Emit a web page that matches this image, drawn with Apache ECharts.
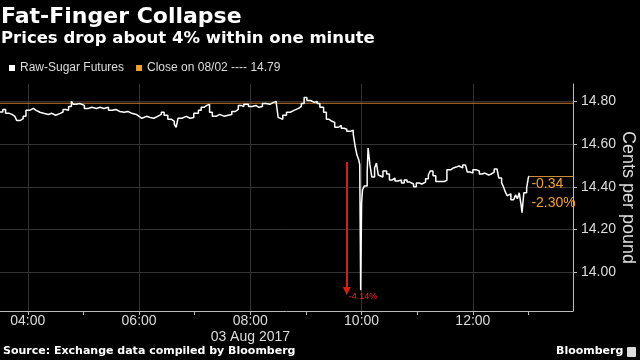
<!DOCTYPE html>
<html><head><meta charset="utf-8">
<script src="https://cdn.jsdelivr.net/npm/echarts@6/dist/echarts.min.js"></script>
<style>html,body{margin:0;padding:0;background:#000;}#c{width:640px;height:360px;}</style>
</head><body><div id="c"></div>
<script>
// minutes since midnight, 03 Aug 2017
const minuteOfDay = [210,213,216,220,223,226,228,232,235,238,242,246,249,253,257,262,266,270,275,278,281,284,287,289,292,296,301,305,309,314,318,322,327,331,335,339,344,348,352,357,360,363,368,372,376,380,384,387,391,395,398,400,402,406,411,415,419,424,427,430,433,436,439,443,447,452,456,460,464,467,470,473,478,482,486,489,493,497,501,505,508,510,512,515,519,523,527,532,535,538,541,545,549,552,555,559,562,565,568,571,575,578,581,584,588,591,593,595,597,598,599,600,601,603,606,607,609,611,614,616,618,620,623,627,630,633,636,639,643,646,649,652,656,659,662,665,669,672,674,677,680,685,689,692,696,699,702,705,709,712,714,717,720,724,727,730,733,737,740,743,746,748,751,753,755,757,759,761,764,766,768,770,772,773,775,778,780,781];
const sugarPrice = [14.749,14.761,14.743,14.738,14.729,14.724,14.710,14.718,14.729,14.757,14.766,14.757,14.748,14.743,14.738,14.743,14.734,14.743,14.749,14.761,14.757,14.775,14.799,14.785,14.789,14.780,14.766,14.771,14.766,14.771,14.766,14.771,14.757,14.761,14.752,14.748,14.752,14.743,14.738,14.729,14.720,14.729,14.724,14.720,14.729,14.738,14.748,14.734,14.715,14.706,14.692,14.678,14.720,14.729,14.720,14.724,14.743,14.757,14.771,14.780,14.785,14.748,14.729,14.738,14.729,14.734,14.738,14.752,14.761,14.780,14.775,14.785,14.775,14.780,14.771,14.775,14.789,14.785,14.794,14.799,14.789,14.724,14.715,14.734,14.748,14.757,14.766,14.775,14.789,14.817,14.803,14.794,14.799,14.789,14.771,14.748,14.715,14.706,14.701,14.678,14.687,14.673,14.669,14.659,14.664,14.646,14.590,14.548,14.525,14.502,13.917,14.325,14.386,14.404,14.469,14.581,14.502,14.446,14.488,14.511,14.455,14.446,14.474,14.460,14.432,14.441,14.427,14.432,14.418,14.432,14.422,14.413,14.400,14.418,14.413,14.422,14.437,14.455,14.474,14.451,14.425,14.425,14.430,14.479,14.488,14.492,14.497,14.488,14.502,14.506,14.469,14.464,14.479,14.474,14.460,14.464,14.455,14.460,14.469,14.483,14.474,14.441,14.418,14.400,14.376,14.358,14.367,14.339,14.348,14.362,14.344,14.372,14.316,14.279,14.372,14.395,14.446,14.450];
const closeValue = 14.79;
const lastValue = 14.45;
const changeText = ['-0.34', '-2.30%'];
const dropText = '-4.14%';
const dropFrom = 14.516, dropTo = 13.913, dropMinute = 584;
const xMin = 210, xMax = 828;
const hourTicks = [240,300,360,420,480,540,600,660,720,780];
const hourLabels = [240,360,480,600,720];
const yMin = 13.82, yMax = 14.88;
const yTicks = [14.0,14.2,14.4,14.6,14.8];

const pad = n => (n < 10 ? '0' : '') + n;
const mainData = minuteOfDay.map((m, i) => [m, sugarPrice[i]]);
const lastMinute = minuteOfDay[minuteOfDay.length - 1];

const chart = echarts.init(document.getElementById('c'), null, {renderer: 'canvas'});
const font = 'Liberation Sans, Arial, sans-serif';
chart.setOption({
  backgroundColor: '#000',
  animation: false,
  title: {
    text: 'Fat-Finger Collapse',
    subtext: 'Prices drop about 4% within one minute',
    left: 1, top: 6, padding: 0, itemGap: 2,
    textStyle: {color: '#fff', fontSize: 22, fontWeight: 'bold', fontFamily: 'DejaVu Sans'},
    subtextStyle: {color: '#fff', fontSize: 16.5, fontWeight: 'bold', fontFamily: 'DejaVu Sans'}
  },
  legend: {
    left: 9, top: 62, padding: 0, itemGap: 12,
    itemWidth: 6, itemHeight: 6, icon: 'rect',
    textStyle: {color: '#ddd', fontSize: 12, fontFamily: font},
    data: ['Raw-Sugar Futures', 'Close on 08/02 ---- 14.79']
  },
  grid: {left: 0, right: 67, top: 84, bottom: 49, containLabel: false, outerBoundsMode: 'none'},
  xAxis: [{
    type: 'value', min: xMin, max: xMax,
    axisLine: {show: true, lineStyle: {color: '#bbb', width: 1}},
    axisTick: {show: true, length: 4, lineStyle: {color: '#bbb'}, customValues: hourTicks},
    axisLabel: {
      color: '#ddd', fontSize: 14, fontFamily: font, margin: 2, lineHeight: 16,
      customValues: hourLabels,
      formatter: v => { const s = pad(Math.floor(v / 60)) + ':' + pad(v % 60); return v === 480 ? s + '\n03 Aug 2017' : s; }
    },
    splitLine: {show: false}
  }, {
    type: 'value', min: xMin, max: xMax, position: 'bottom',
    axisLine: {show: false}, axisLabel: {show: false},
    axisTick: {show: false, customValues: hourLabels},
    splitLine: {show: true, lineStyle: {color: '#333', width: 1}}
  }],
  yAxis: {
    type: 'value', position: 'right', min: yMin, max: yMax,
    axisLine: {show: true, lineStyle: {color: '#bbb', width: 1}},
    axisTick: {show: true, length: 4, lineStyle: {color: '#bbb'}, customValues: yTicks},
    axisLabel: {color: '#ddd', fontSize: 14, fontFamily: font, margin: 8, customValues: yTicks,
      formatter: v => v.toFixed(2)},
    splitLine: {show: true, lineStyle: {color: '#333', width: 1}},
    name: 'Cents per pound', nameLocation: 'middle', nameRotate: -90, nameGap: 46,
    nameMoveOverlap: false,
    nameTextStyle: {color: '#ddd', fontSize: 18, fontFamily: font}
  },
  series: [{
    name: 'Close on 08/02 ---- 14.79', type: 'line', xAxisIndex: 0,
    data: [[xMin, closeValue], [xMax, closeValue]],
    showSymbol: false, silent: true,
    itemStyle: {color: '#f0a030'},
    lineStyle: {color: '#c77a2e', width: 1.2},
    markLine: {
      silent: true, symbol: ['none', 'none'],
      lineStyle: {color: '#d08a35', width: 1.2, type: 'solid'},
      label: {show: false},
      data: [[{coord: [lastMinute, lastValue]}, {coord: [xMax, lastValue]}]]
    },
    markPoint: {
      silent: true, symbolSize: 0,
      data: [{coord: [lastMinute, lastValue],
        label: {show: true, position: [2, -1], formatter: changeText.join('\n'),
          color: '#f0a040', fontSize: 14, lineHeight: 19, fontFamily: font}}]
    }
  }, {
    name: 'Raw-Sugar Futures', type: 'line', xAxisIndex: 0,
    data: mainData, showSymbol: false, step: 'end',
    itemStyle: {color: '#fff'},
    lineStyle: {color: '#fff', width: 1.5},
    markLine: {
      silent: true, symbol: ['none', 'triangle'], symbolSize: 8,
      lineStyle: {color: '#d0201a', width: 2, type: 'solid'},
      label: {show: false},
      data: [[{coord: [dropMinute, dropFrom]}, {coord: [dropMinute, dropTo]}]]
    },
    markPoint: {
      silent: true, symbolSize: 0,
      data: [{coord: [dropMinute, dropTo],
        label: {show: true, position: [2, 1], formatter: dropText,
          color: '#e0302a', fontSize: 9, fontFamily: font}}]
    }
  }],
  graphic: [
    {type: 'text', left: 3, top: 346, style: {text: 'Source: Exchange data compiled by Bloomberg', fill: '#fff', font: 'bold 11px "DejaVu Sans"'}},
    {type: 'text', left: 556, top: 346, style: {text: 'Bloomberg', fill: '#fff', font: 'bold 11px "DejaVu Sans"'}},
    {type: 'rect', left: 627, top: 347, shape: {width: 9, height: 10, r: 1}, style: {fill: '#ddd'}}
  ]
});
</script>
</body></html>
